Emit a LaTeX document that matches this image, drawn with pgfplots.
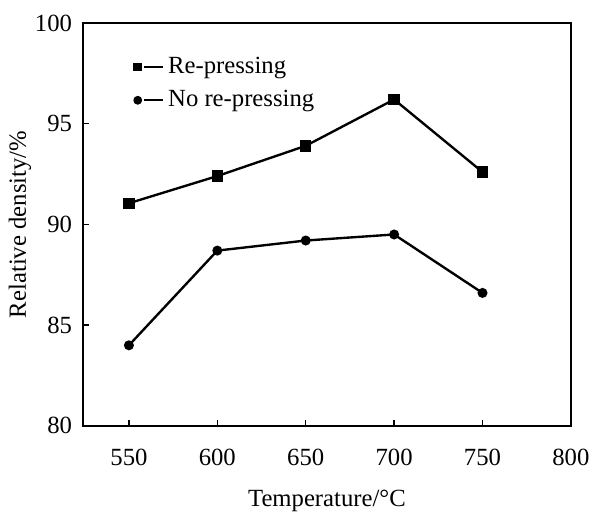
\documentclass[border=0pt]{standalone}
\usepackage{pgfplots}
\pgfplotsset{compat=1.18}
\usepackage{fontspec}
\setmainfont{Liberation Serif}
\begin{document}
\begin{tikzpicture}
\begin{axis}[
  scale only axis,
  width=247pt, height=204pt,
  xmin=524, xmax=800, ymin=80, ymax=100,
  xtick={550,600,650,700,750,800},
  ytick={80,85,90,95,100},
  tick align=inside,
  tick pos=left,
  major tick length=3pt,
  axis line style={line width=0.8pt},
  tick style={line width=0.7pt, black},
  /pgf/number format/assume math mode=true,
  /pgf/number format/1000 sep={},
  tick label style={font=\fontsize{12.5}{14}\selectfont},
  xticklabel style={yshift=-8pt},
  yticklabel style={xshift=-2pt},
  xlabel={Temperature/°C},
  ylabel={Relative density/\%},
  label style={font=\fontsize{12.5}{14}\selectfont},
  xlabel style={yshift=-5.5pt},
  ylabel style={yshift=-5pt},
  legend style={draw=none, fill=none, at={(0.105,0.925)}, anchor=north west,
    font=\fontsize{12.5}{14}\selectfont, row sep=3pt, inner sep=0pt},
  legend cell align=left,
  legend image code/.code={
    \draw[#1, mark=none] (0.12cm,0cm) -- (0.45cm,0cm);
    \draw[#1, mark size=1.6pt] plot coordinates {(0cm,0cm)};
  },
]
\addplot[black, line width=1.2pt, mark=square*, mark size=2.3pt, mark options={solid}]
  coordinates {(550,91.05) (600,92.4) (650,93.9) (700,96.2) (750,92.6)};
\addlegendentry{Re-pressing}
\addplot[black, line width=1.2pt, mark=*, mark size=1.9pt, mark options={solid}]
  coordinates {(550,84.0) (600,88.7) (650,89.2) (700,89.5) (750,86.6)};
\addlegendentry{No re-pressing}
\end{axis}
\path (current axis.south west) ++(-42pt,-36.5pt) coordinate (bbsw);
\path (current axis.north east) ++(8.75pt,11.6pt) coordinate (bbne);
\path (bbsw) rectangle (bbne);
\end{tikzpicture}
\end{document}
